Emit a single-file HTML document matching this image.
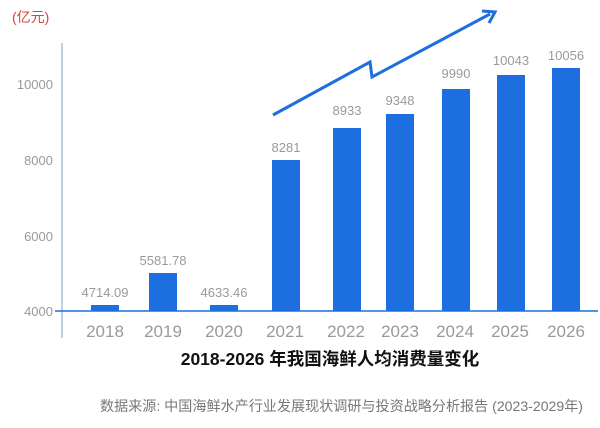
<!DOCTYPE html>
<html><head><meta charset="utf-8"><style>
body{margin:0;background:#fff;width:600px;height:423px;overflow:hidden}
svg text{font-family:"Liberation Sans","Noto Sans CJK SC",sans-serif}
</style></head><body>
<svg width="600" height="423" viewBox="0 0 600 423">
<text x="12" y="22" fill="#d9443a" font-size="14">(亿元)</text>
<line x1="62" y1="43" x2="62" y2="338" stroke="#8fb0cc" stroke-width="1.2"/>
<line x1="55" y1="311" x2="598" y2="311" stroke="#1d6fe0" stroke-width="1.5"/>
<g fill="#9a9a9a" font-size="13" text-anchor="end">
<text x="53" y="89">10000</text><text x="53" y="165">8000</text><text x="53" y="241">6000</text><text x="53" y="316">4000</text>
</g>
<g fill="#1d6fe0">
<rect x="91" y="305" width="28" height="6"/>
<rect x="149" y="273" width="28" height="38"/>
<rect x="210" y="305" width="28" height="6"/>
<rect x="272" y="160" width="28" height="151"/>
<rect x="333" y="128" width="28" height="183"/>
<rect x="386" y="114" width="28" height="197"/>
<rect x="442" y="89" width="28" height="222"/>
<rect x="497" y="75" width="28" height="236"/>
<rect x="552" y="68" width="28" height="243"/>
</g>
<g fill="#9a9a9a" font-size="13" text-anchor="middle">
<text x="105" y="297">4714.09</text><text x="163" y="265">5581.78</text><text x="224" y="297">4633.46</text>
<text x="286" y="152">8281</text><text x="347" y="115">8933</text><text x="400" y="105">9348</text>
<text x="456" y="78">9990</text><text x="511" y="65">10043</text><text x="566" y="60">10056</text>
</g>
<g fill="#9a9a9a" font-size="17" text-anchor="middle">
<text x="105" y="337">2018</text><text x="163" y="337">2019</text><text x="224" y="337">2020</text>
<text x="285" y="337">2021</text><text x="346" y="337">2022</text><text x="400" y="337">2023</text>
<text x="455" y="337">2024</text><text x="510" y="337">2025</text><text x="566" y="337">2026</text>
</g>
<polyline points="273,115 370,62 372,77 490,14" fill="none" stroke="#1d6fe0" stroke-width="3"/>
<polyline points="482,11 495,12 489,23" fill="none" stroke="#1d6fe0" stroke-width="3"/>
<text x="330" y="365" font-size="17.5" font-weight="bold" fill="#111" text-anchor="middle">2018-2026 年我国海鲜人均消费量变化</text>
<text x="100" y="411" font-size="14" fill="#777" textLength="483" lengthAdjust="spacingAndGlyphs">数据来源: 中国海鲜水产行业发展现状调研与投资战略分析报告 (2023-2029年)</text>
</svg>
</body></html>
